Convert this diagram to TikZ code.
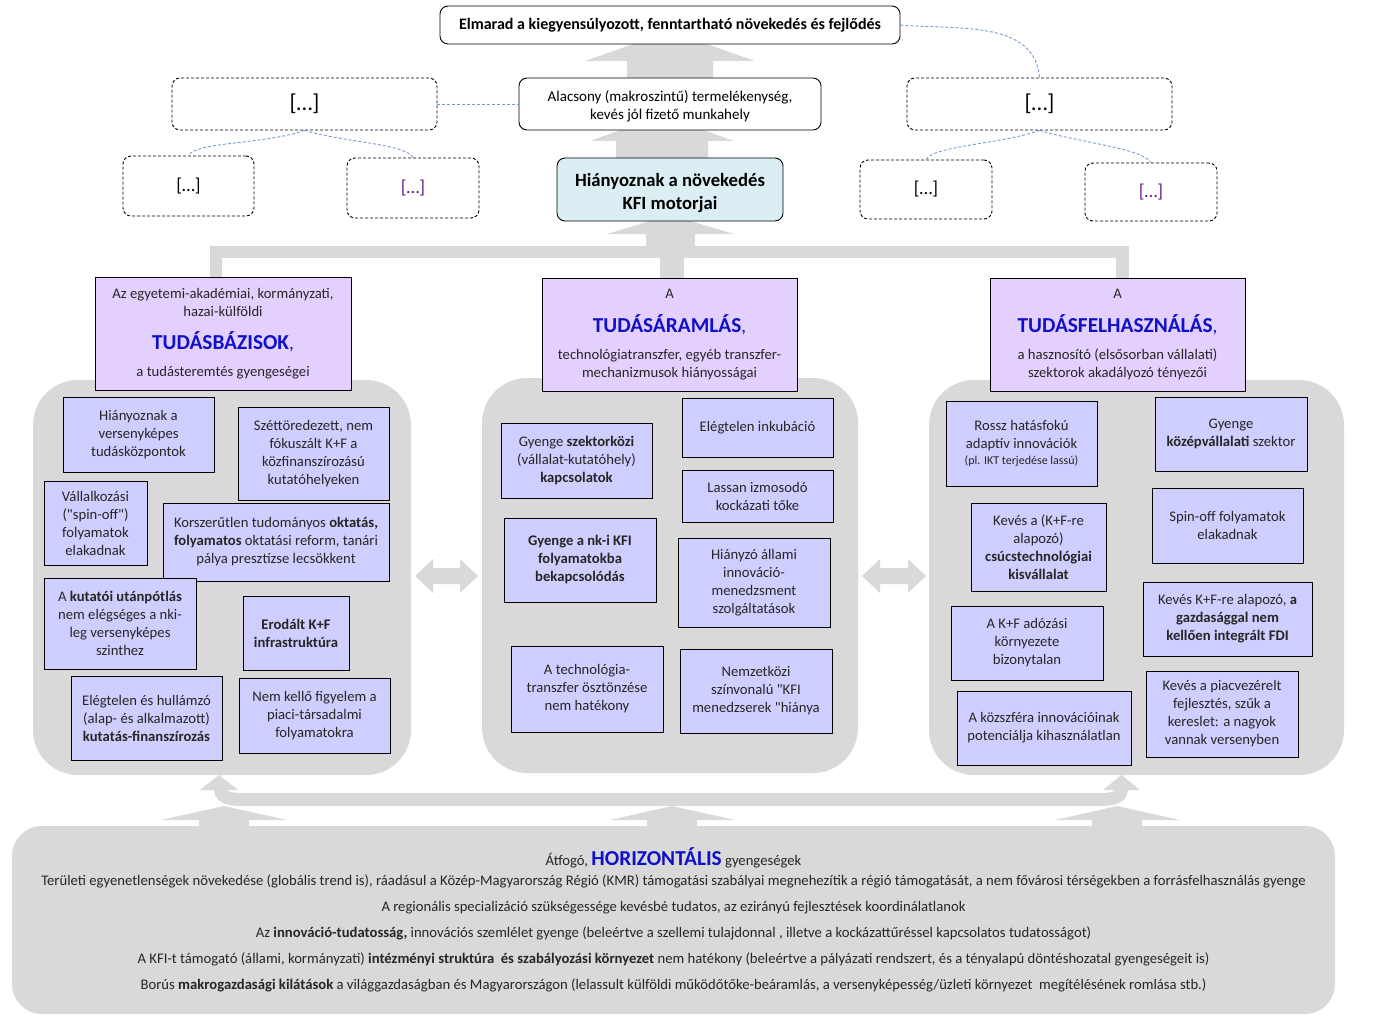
\documentclass[tikz,border=0pt]{standalone}
\usepackage{fontspec}
\setmainfont{Carlito}
\newfontfamily\qfont{Carlito}
\definecolor{bgray}{RGB}{217,217,217}
\definecolor{hdr}{RGB}{227,208,255}
\definecolor{innerc}{RGB}{206,206,255}
\definecolor{kfic}{RGB}{218,238,243}
\definecolor{tblue}{RGB}{16,16,200}
\definecolor{dline}{RGB}{122,152,202}
\definecolor{txt}{RGB}{38,38,38}
\definecolor{purp}{RGB}{100,30,140}
\newcommand{\bx}[7]{\node[#2, minimum width={#5-#3}, minimum height={#6-#4}] (#1) at ({(#3+#5)/2},{(#4+#6)/2}) {#7};}
\newcommand{\bigt}[1]{{\color{tblue}\bfseries\fontsize{21.3}{18}\selectfont #1}{\color{tblue}\fontsize{19}{18}\selectfont ,}}
\newcommand{\sq}{{\qfont "}}
\tikzset{
 inbox/.style={draw=black, line width=0.9pt, fill=innerc, align=center, inner sep=0pt, font=\fontsize{14.67}{18}\selectfont, text=txt},
 hdrbox/.style={draw=black, line width=0.9pt, fill=hdr, align=center, inner sep=0pt, font=\fontsize{14.67}{18}\selectfont, text=txt},
 dbox/.style={draw=black, dash pattern=on 3pt off 2pt, line width=0.9pt, rounded corners=8pt, fill=white, inner sep=0pt, text=black},
 sbox/.style={draw=black, line width=0.9pt, rounded corners=8pt, fill=white, align=center, inner sep=0pt, text=black},
 colbg/.style={fill=bgray, draw=none, rounded corners=45pt, inner sep=0pt},
 dlink/.style={draw=dline, dash pattern=on 3pt off 2pt, line width=0.9pt},
 garrow/.style={fill=bgray, draw=none},
}
\begin{document}
\begin{tikzpicture}[x=1pt,y=-1pt]
\useasboundingbox (0,0) rectangle (1375,1027);
% column backgrounds
\bx{colL}{colbg}{33}{380}{411}{775}{}
\bx{colM}{colbg}{482}{378}{858}{773}{}
\bx{colR}{colbg}{929}{380}{1344}{775}{}
% top block arrows
\fill[garrow] (627,80) -- (627,61) -- (585,61) -- (670,31) -- (755,61) -- (713,61) -- (713,80) -- cycle;
\fill[garrow] (616,160) -- (616,141) -- (590,141) -- (662,115) -- (734,141) -- (708,141) -- (708,160) -- cycle;
\fill[garrow] (646,247) -- (646,234) -- (607,234) -- (670,215) -- (734,234) -- (695,234) -- (695,247) -- cycle;
\fill[garrow] (660,256) rectangle (684,280);
\fill[garrow] (210,246) rectangle (1129,258);
\fill[garrow] (210,246) rectangle (222,279);
\fill[garrow] (1116,246) rectangle (1129,279);
% side double arrows
\fill[garrow] (415,576) -- (433,559) -- (433,568) -- (460,568) -- (460,559) -- (478,576) -- (460,593) -- (460,584) -- (433,584) -- (433,593) -- cycle;
\fill[garrow] (862,576) -- (880,559) -- (880,568) -- (908,568) -- (908,559) -- (926,576) -- (908,593) -- (908,584) -- (880,584) -- (880,593) -- cycle;
% bottom arrows
\fill[garrow] (199,828) -- (199,820) -- (161,820) -- (224,806) -- (287,820) -- (249,820) -- (249,828) -- cycle;
\fill[garrow] (647,828) -- (647,820) -- (610,820) -- (672,806) -- (735,820) -- (697,820) -- (697,828) -- cycle;
\fill[garrow] (1092,828) -- (1092,820) -- (1055,820) -- (1117,806) -- (1180,820) -- (1142,820) -- (1142,828) -- cycle;
\draw[bgray, line width=13pt] (220.5,789) to[out=-90,in=180] (246,799.5) -- (1096,799.5) to[out=0,in=-90] (1121.5,789);
\fill[garrow] (200,790) -- (238,790) -- (219,775) -- cycle;
\fill[garrow] (1103,790) -- (1140,790) -- (1121.5,775) -- cycle;
% bottom box
\bx{horiz}{colbg, rounded corners=30pt, align=center, text=txt, font=\fontsize{14.67}{26}\selectfont}{12}{826}{1335}{1014}{Átfogó, {\color{tblue}\bfseries\fontsize{21.3}{18}\selectfont HORIZONTÁLIS} gyengeségek\\[-6pt]
Területi egyenetlenségek növekedése (globális trend is), ráadásul a Közép-Magyarország Régió (KMR) támogatási szabályai megnehezítik a régió támogatását, a nem fővárosi térségekben a forrásfelhasználás gyenge\\
A regionális specializáció szükségessége kevésbé tudatos, az ezirányú fejlesztések koordinálatlanok\\
Az \textbf{innováció-tudatosság,} innovációs szemlélet gyenge (beleértve a szellemi tulajdonnal , illetve a kockázattűréssel kapcsolatos tudatosságot)\\
A KFI-t támogató (állami, kormányzati) \textbf{intézményi struktúra\ \ és szabályozási környezet} nem hatékony (beleértve a pályázati rendszert, és a tényalapú döntéshozatal gyengeségeit is)\\
Borús \textbf{makrogazdasági kilátások} a világgazdaságban és Magyarországon (lelassult külföldi működőtőke-beáramlás, a versenyképesség/üzleti környezet\ \ megítélésének romlása stb.)}
% top boxes
\bx{elm}{sbox, font=\bfseries\fontsize{16}{18}\selectfont}{440}{6}{900}{44}{Elmarad a kiegyensúlyozott, fenntartható növekedés és fejlődés}
\bx{alac}{sbox, font=\fontsize{15}{18}\selectfont}{519}{78}{821}{130}{\rule{0pt}{15pt}Alacsony (makroszintű) termelékenység,\\kevés jól fizető munkahely}
\bx{kfi}{sbox, fill=kfic, font=\bfseries\fontsize{18.67}{23}\selectfont}{557}{158}{783}{221}{\rule{0pt}{21pt}Hiányoznak a növekedés\\KFI motorjai}
\bx{bigL}{dbox, font=\fontsize{23}{24}\selectfont}{172}{78}{437}{130}{[…]}
\bx{sL1}{dbox, font=\fontsize{18.67}{18}\selectfont}{123}{156}{254}{216}{[…]}
\bx{sL2}{dbox, font=\fontsize{18.67}{18}\selectfont, text=purp}{347}{158}{479}{218}{[…]}
\bx{bigR}{dbox, font=\fontsize{23}{24}\selectfont}{907}{78}{1172}{130}{[…]}
\bx{sR1}{dbox, font=\fontsize{18.67}{18}\selectfont}{860}{160}{992}{219}{[…]}
\bx{sR2}{dbox, font=\fontsize{18.67}{18}\selectfont, text=purp}{1085}{163}{1217}{221}{[…]}
% dashed links
\draw[dlink] (bigL.east) -- (alac.west);
\draw[dlink] (bigL.south) .. controls +(-40,14) and +(8,-14) .. (sL1.north);
\draw[dlink] (bigL.south) .. controls +(40,12) and +(-8,-14) .. (sL2.north);
\draw[dlink] (elm.east) to[out=-5,in=95] (bigR.north);
\draw[dlink] (bigR.south) .. controls +(-40,14) and +(8,-14) .. (sR1.north);
\draw[dlink] (bigR.south) .. controls +(40,12) and +(-8,-14) .. (sR2.north);
% headers
\bx{hL}{hdrbox}{95}{277}{351}{390}{Az egyetemi-akadémiai, kormányzati,\\hazai-külföldi\\[15pt]\bigt{TUDÁSBÁZISOK}\\[9pt]a tudásteremtés gyengeségei}
\bx{hM}{hdrbox}{542}{278}{797}{391}{A\\[16pt]\bigt{TUDÁSÁRAMLÁS}\\[9pt]technológiatranszfer, egyéb transzfer-\\mechanizmusok hiányosságai}
\bx{hR}{hdrbox}{990}{278}{1245}{391}{A\\[16pt]\bigt{TUDÁSFELHASZNÁLÁS}\\[9pt]a hasznosító (elsősorban vállalati)\\szektorok akadályozó tényezői}
% left inner boxes
\bx{L1}{inbox}{63}{397}{214}{472}{Hiányoznak a\\versenyképes\\tudásközpontok}
\bx{L2}{inbox}{238}{407}{389}{500}{Széttöredezett, nem\\fókuszált K+F a\\közfinanszírozású\\kutatóhelyeken}
\bx{L3}{inbox}{44}{481}{147}{565}{Vállalkozási\\(\sq spin-off\sq)\\folyamatok\\elakadnak}
\bx{L4}{inbox}{163}{503}{389}{581}{Korszerűtlen tudományos \textbf{oktatás,}\\\textbf{folyamatos} oktatási reform, tanári\\pálya presztízse lecsökkent}
\bx{L5}{inbox}{44}{578}{196}{669}{A \textbf{kutatói utánpótlás}\\nem elégséges a nki-\\leg versenyképes\\szinthez}
\bx{L6}{inbox}{243}{596}{349}{670}{\textbf{Erodált K+F}\\\textbf{infrastruktúra}}
\bx{L7}{inbox}{71}{676}{222}{760}{Elégtelen és hullámzó\\(alap- és alkalmazott)\\\textbf{kutatás-finanszírozás}}
\bx{L8}{inbox}{239}{678}{390}{753}{Nem kellő figyelem a\\piaci-társadalmi\\folyamatokra}
% middle inner boxes
\bx{M1}{inbox}{501}{423}{652}{498}{Gyenge \textbf{szektorközi}\\(vállalat-kutatóhely)\\\textbf{kapcsolatok}}
\bx{M2}{inbox}{682}{398}{833}{457}{Elégtelen inkubáció}
\bx{M3}{inbox}{682}{470}{833}{522}{Lassan izmosodó\\kockázati tőke}
\bx{M4}{inbox}{504}{518}{656}{602}{\textbf{Gyenge a nk-i KFI}\\\textbf{folyamatokba}\\\textbf{bekapcsolódás}}
\bx{M5}{inbox}{678}{538}{830}{627}{Hiányzó állami\\innováció-\\menedzsment\\szolgáltatások}
\bx{M6}{inbox}{511}{646}{663}{732}{A technológia-\\transzfer ösztönzése\\nem hatékony}
\bx{M7}{inbox}{680}{649}{832}{733}{Nemzetközi\\színvonalú \sq KFI\\menedzserek \sq hiánya}
% right inner boxes
\bx{R1}{inbox}{946}{401}{1097}{486}{Rossz hatásfokú\\adaptív innovációk\\[-2pt]{\fontsize{12}{14}\selectfont (pl. IKT terjedése lassú)}}
\bx{R2}{inbox}{1155}{397}{1307}{471}{Gyenge\\\textbf{középvállalati} szektor}
\bx{R3}{inbox}{971}{503}{1106}{591}{Kevés a (K+F-re\\alapozó)\\\textbf{csúcstechnológiai}\\\textbf{kisvállalat}}
\bx{R4}{inbox}{1152}{488}{1303}{563}{Spin-off folyamatok\\elakadnak}
\bx{R5}{inbox}{951}{606}{1103}{680}{A K+F adózási\\környezete\\bizonytalan}
\bx{R6}{inbox}{1143}{582}{1312}{656}{Kevés K+F-re alapozó, \textbf{a}\\\textbf{gazdasággal nem}\\\textbf{kellően integrált FDI}}
\bx{R7}{inbox}{957}{691}{1131}{765}{A közszféra innovációinak\\potenciálja kihasználatlan}
\bx{R8}{inbox}{1146}{671}{1298}{757}{Kevés a piacvezérelt\\fejlesztés, szűk a\\kereslet: a nagyok\\vannak versenyben}
\end{tikzpicture}
\end{document}
